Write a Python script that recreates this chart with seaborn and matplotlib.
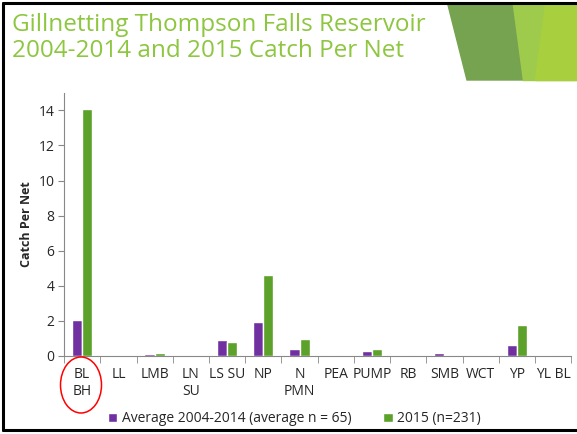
import numpy as np
import pandas as pd
import seaborn as sns
import matplotlib.pyplot as plt
from matplotlib.patches import Ellipse, Polygon
from matplotlib.lines import Line2D

species = ["BL\nBH", "LL", "LMB", "LN\nSU", "LS SU", "NP", "N\nPMN", "PEA",
           "PUMP", "RB", "SMB", "WCT", "YP", "YL BL"]
avg_0414 = [2.03, 0.03, 0.08, 0.05, 0.89, 1.93, 0.38, 0.05,
            0.28, 0.05, 0.17, 0.03, 0.61, 0.0]
catch_2015 = [14.1, 0.0, 0.17, 0.0, 0.80, 4.6, 0.97, 0.0,
              0.38, 0.0, 0.06, 0.0, 1.76, 0.06]
series = ["Average 2004-2014 (average n = 65)", "2015 (n=231)"]

df = pd.DataFrame({
    "species": species * 2,
    "cpn": avg_0414 + catch_2015,
    "series": [series[0]] * len(species) + [series[1]] * len(species),
})

sns.set_style("white")
plt.rcParams["font.family"] = ["Open Sans", "DejaVu Sans"]

fig = plt.figure(figsize=(5.77, 4.34), dpi=100)
ax = fig.add_axes([0.111, 0.180, 0.879, 0.606])

sns.barplot(data=df, x="species", y="cpn", hue="series",
            palette=["#7030A0", "#5BA12A"], width=0.56, gap=0,
            saturation=1, legend=True, ax=ax)

ax.set_ylim(0, 15)
ax.set_yticks(range(0, 15, 2))
ax.set_xlim(-0.5, len(species) - 0.5)
ax.set_xlabel("")
ax.set_ylabel("Catch Per Net", fontsize=9, fontweight="bold", labelpad=4)
ax.tick_params(axis="y", labelsize=10, length=4, color="#888888", left=True, pad=3)
ax.tick_params(axis="x", labelsize=10, length=0, pad=8)
ax.set_xticks(np.arange(-0.5, len(species) - 0.4, 1), minor=True)
ax.tick_params(axis="x", which="minor", length=5, color="#888888", bottom=True)
for s in ["top", "right"]:
    ax.spines[s].set_visible(False)
for s in ["left", "bottom"]:
    ax.spines[s].set_color("#888888")
    ax.spines[s].set_linewidth(0.8)

ax.legend(loc="center", bbox_to_anchor=(0.51, 0.035), bbox_transform=fig.transFigure,
          ncol=2, frameon=False, fontsize=10, handlelength=0.7, handleheight=0.7,
          handletextpad=0.3, columnspacing=2.3)

# title
fig.text(0.021, 0.97, "Gillnetting Thompson Falls Reservoir\n2004-2014 and 2015 Catch Per Net",
         ha="left", va="top", fontsize=17.5, color="#8DC63F", linespacing=1.1)

# decoration top-right
W, H = 577, 434
def fc(pts):
    return [(x / W, 1 - y / H) for x, y in pts]
fig.patches.append(Polygon(fc([(448, 5), (513, 5), (523, 80), (467, 80)]),
                           closed=True, transform=fig.transFigure, color="#76A34F", zorder=0))
fig.patches.append(Polygon(fc([(513, 5), (577, 5), (577, 80), (523, 80)]),
                           closed=True, transform=fig.transFigure, color="#9FCB4C", zorder=0))
fig.patches.append(Polygon(fc([(545, 5), (577, 5), (577, 80), (535, 80)]),
                           closed=True, transform=fig.transFigure, color="#A8D03E", zorder=0))

# red ellipse around BL BH
fig.patches.append(Ellipse((81 / W, 1 - 385 / H), 41 / W, 56 / H,
                           transform=fig.transFigure, fill=False, edgecolor="red", lw=1.1))

# slide border
for xs, ys in [([3, 577], [3, 3]), ([3, 3], [3, 430]), ([3, 577], [430, 430])]:
    fig.lines.append(Line2D([x / W for x in xs], [1 - y / H for y in ys],
                            transform=fig.transFigure, color="black", lw=2.2))

fig.savefig("out.png", dpi=100)
